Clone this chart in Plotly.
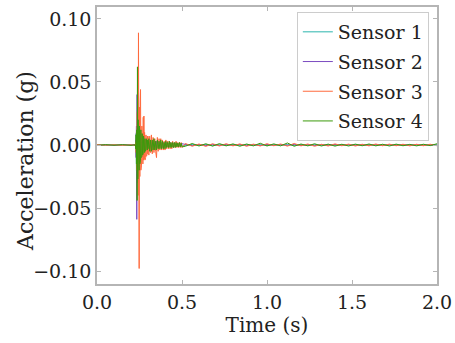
import numpy as np
import plotly.graph_objects as go

# ---- time grid (seconds) ----
t_pre = [0.0, 0.05, 0.1, 0.15, 0.2, 0.222, 0.224]
t_burst = list(np.round(0.226 + 0.002 * np.arange(38), 3))   # 0.226 .. 0.300
t_decay = list(np.round(0.305 + 0.005 * np.arange(40), 3))   # 0.305 .. 0.500
t_tail = list(np.round(0.52 + 0.04 * np.arange(38), 3))      # 0.52 .. 2.00
time = t_pre + t_burst + t_decay + t_tail

series_names = ["Sensor 1", "Sensor 2", "Sensor 3", "Sensor 4"]
series_colors = ["#2bb5ad", "#7b4cc0", "#ff6a3d", "#3c9a0c"]

s1_pre = [0.0002, -0.0003, 0.0002, -0.0002, 0.0003, -0.0002, 0.0004]
s1_burst = [0.000, -0.003, 0.009, -0.020, 0.035, -0.030, 0.040, -0.025, 0.018, -0.015,
            0.014, -0.012, 0.011, -0.010, 0.009, -0.008, 0.008, -0.007, 0.007, -0.006,
            0.006, -0.005, 0.005, -0.005, 0.004, -0.004, 0.004, -0.004, 0.003, -0.003,
            0.003, -0.003, 0.003, -0.002, 0.002, -0.002, 0.002, -0.002]
s1_decay = [0.002, -0.003, 0.003, -0.002, 0.002, -0.003, 0.002, -0.002, 0.002, -0.002,
            0.002, -0.002, 0.002, -0.0015, 0.0015, -0.0015, 0.0015, -0.0015, 0.0015, -0.0012,
            0.0012, -0.0012, 0.0012, -0.0012, 0.001, -0.001, 0.001, -0.001, 0.001, -0.001,
            0.001, -0.001, 0.0008, -0.0008, 0.0008, -0.0008, 0.0008, -0.0008, 0.0008, -0.0008]
s1_tail = [-0.0004, 0.0005, -0.0003, 0.0004, -0.0005, 0.0003, -0.0004, 0.0003, -0.0003, 0.0004,
           -0.0003, 0.0003, -0.0004, 0.0003, -0.0003, 0.0003, -0.0004, 0.0003, -0.0003, 0.0003,
           -0.0003, 0.0003, -0.0003, 0.0003, -0.0002, 0.0003, -0.0003, 0.0002, -0.0003, 0.0002,
           -0.0002, 0.0003, -0.0002, 0.0002, -0.0003, 0.0002, -0.0002, 0.0002]

s2_pre = [-0.0002, 0.0002, -0.0003, 0.0002, -0.0002, 0.0003, -0.0004]
s2_burst = [0.000, 0.004, -0.010, 0.015, -0.059, 0.040, -0.030, 0.025, -0.020, 0.016,
            -0.017, 0.014, -0.013, 0.012, -0.011, 0.010, -0.009, 0.009, -0.008, 0.008,
            -0.007, 0.007, -0.006, 0.006, -0.006, 0.005, -0.005, 0.005, -0.004, 0.004,
            -0.004, 0.004, -0.003, 0.003, -0.003, 0.003, -0.003, 0.003]
s2_decay = [-0.003, 0.004, -0.003, 0.003, -0.004, 0.003, -0.003, 0.003, -0.003, 0.003,
            -0.002, 0.003, -0.002, 0.003, -0.002, 0.002, -0.002, 0.002, -0.002, 0.002,
            -0.002, 0.002, -0.0015, 0.0015, -0.0015, 0.002, -0.0015, 0.0015, -0.0015, 0.0015,
            -0.0012, 0.0012, -0.0012, 0.0012, -0.0012, 0.0012, -0.001, 0.001, -0.001, 0.001]
s2_tail = [0.0005, -0.0005, 0.0004, -0.0005, 0.0005, -0.0004, 0.0005, -0.0003, 0.0004, -0.0005,
           0.0003, -0.0004, 0.0005, -0.0003, 0.0004, -0.0003, 0.0005, -0.0004, 0.0003, -0.0004,
           0.0003, -0.0003, 0.0004, -0.0003, 0.0003, -0.0003, 0.0003, -0.0003, 0.0003, -0.0003,
           0.0003, -0.0003, 0.0003, -0.0003, 0.0003, -0.0003, 0.0003, -0.0003]

s3_pre = [0.0003, -0.0002, 0.0002, -0.0003, 0.0002, -0.0003, 0.0005]
s3_burst = [0.000, 0.002, -0.006, 0.010, -0.020, 0.025, -0.035, 0.030, -0.040, 0.089,
            -0.030, -0.098, 0.030, -0.025, 0.035, 0.044, -0.020, 0.018, -0.016, 0.015,
            -0.014, 0.014, -0.015, 0.022, -0.012, 0.023, -0.011, 0.010, -0.012, 0.009,
            -0.010, 0.008, -0.009, 0.008, -0.008, 0.007, -0.007, 0.007]
s3_decay = [-0.008, 0.007, -0.006, 0.008, -0.007, 0.006, -0.006, 0.005, -0.005, -0.010,
            0.006, -0.005, 0.005, -0.004, 0.005, -0.004, 0.004, -0.004, 0.003, -0.004,
            0.004, -0.003, 0.003, -0.003, 0.003, -0.003, 0.002, -0.003, 0.003, -0.002,
            0.002, -0.002, 0.003, -0.002, 0.002, -0.002, 0.002, -0.002, 0.002, -0.002]
s3_tail = [0.0012, -0.0010, 0.0008, -0.0011, 0.0010, -0.0008, 0.0010, -0.0007, 0.0009, -0.0010,
           0.0007, -0.0008, 0.0010, -0.0006, 0.0008, -0.0009, 0.0012, -0.0007, 0.0008, -0.0010,
           0.0006, -0.0008, 0.0009, -0.0006, 0.0007, -0.0008, 0.0006, -0.0007, 0.0008, -0.0006,
           0.0007, -0.0006, 0.0006, -0.0007, 0.0006, -0.0006, 0.0006, -0.0006]

s4_pre = [-0.0003, 0.0003, -0.0002, 0.0003, -0.0003, 0.0002, -0.0005]
s4_burst = [0.000, -0.003, 0.008, -0.015, 0.012, -0.044, 0.062, -0.027, 0.020, -0.018,
            0.016, -0.020, 0.015, -0.015, 0.014, -0.012, 0.012, -0.010, 0.010, -0.009,
            0.009, -0.008, 0.008, -0.007, 0.007, -0.006, 0.006, -0.006, 0.005, -0.005,
            0.005, -0.004, 0.005, -0.004, 0.004, -0.004, 0.004, -0.003]
s4_decay = [0.005, -0.005, 0.004, -0.005, 0.004, -0.004, 0.005, -0.004, 0.003, -0.004,
            0.004, -0.003, 0.003, -0.003, 0.004, -0.003, 0.003, -0.003, 0.002, -0.003,
            0.003, -0.002, 0.002, -0.002, 0.003, -0.002, 0.002, -0.002, 0.002, -0.002,
            0.002, -0.002, 0.002, -0.0015, 0.0015, -0.0015, 0.002, -0.0015, 0.0015, -0.0015]
s4_tail = [-0.0010, 0.0012, -0.0008, 0.0010, -0.0009, 0.0011, -0.0007, 0.0009, -0.0010, 0.0008,
           -0.0007, 0.0014, -0.0008, 0.0009, -0.0007, 0.0016, -0.0010, 0.0008, -0.0007, 0.0010,
           -0.0008, 0.0007, -0.0009, 0.0006, -0.0008, 0.0007, -0.0006, 0.0008, -0.0007, 0.0006,
           -0.0008, 0.0007, -0.0006, 0.0005, -0.0007, 0.0006, -0.0005, 0.0010]

sensor1 = s1_pre + s1_burst + s1_decay + s1_tail
sensor2 = s2_pre + s2_burst + s2_decay + s2_tail
sensor3 = s3_pre + s3_burst + s3_decay + s3_tail
sensor4 = s4_pre + s4_burst + s4_decay + s4_tail
all_series = [sensor1, sensor2, sensor3, sensor4]
for s in all_series:
    assert len(s) == len(time), (len(s), len(time))

x_ticks = [0.0, 0.5, 1.0, 1.5, 2.0]
y_ticks = [-0.10, -0.05, 0.0, 0.05, 0.10]

FONT = "DejaVu Serif"
AX = "#b5b5b5"
TXT = "#222222"

fig = go.Figure()
for name, col, vals in zip(series_names, series_colors, all_series):
    fig.add_trace(go.Scatter(x=time, y=vals, mode="lines", name=name, legendgroup=name,
                             line=dict(color=col, width=1)))

axis_common = dict(showline=True, linecolor=AX, linewidth=1.5, mirror="allticks",
                   ticks="inside", ticklen=4, tickwidth=1, tickcolor=AX,
                   showgrid=False, zeroline=False, ticklabeloverflow="allow",
                   tickfont=dict(family=FONT, size=19, color=TXT))

fig.update_xaxes(range=[0, 2], tickvals=x_ticks, tickformat=".1f",
                 title=dict(text="Time (s)", font=dict(family=FONT, size=20, color=TXT), standoff=5),
                 **axis_common)
fig.update_yaxes(range=[-0.1103, 0.1095], tickvals=y_ticks, tickformat=".2f",
                 **axis_common)

fig.add_annotation(text="Acceleration (g)", textangle=-90, showarrow=False,
                   xref="paper", yref="paper", x=-0.212, y=0.444,
                   xanchor="center", yanchor="middle",
                   font=dict(family=FONT, size=22, color=TXT))

fig.update_layout(
    width=455, height=343,
    margin=dict(l=97, r=18, t=7, b=59, autoexpand=False),
    paper_bgcolor="white", plot_bgcolor="white",
    font=dict(family=FONT, size=19, color=TXT),
    legend=dict(x=0.976, xanchor="right", y=0.982, yanchor="top",
                bgcolor="white", bordercolor="#cccccc", borderwidth=1,
                font=dict(family=FONT, size=19, color=TXT),
                itemwidth=30, tracegroupgap=2),
    showlegend=True,
)

fig.write_html("out.html", config={"displayModeBar": False},
               post_script="document.body.style.margin='0';")
